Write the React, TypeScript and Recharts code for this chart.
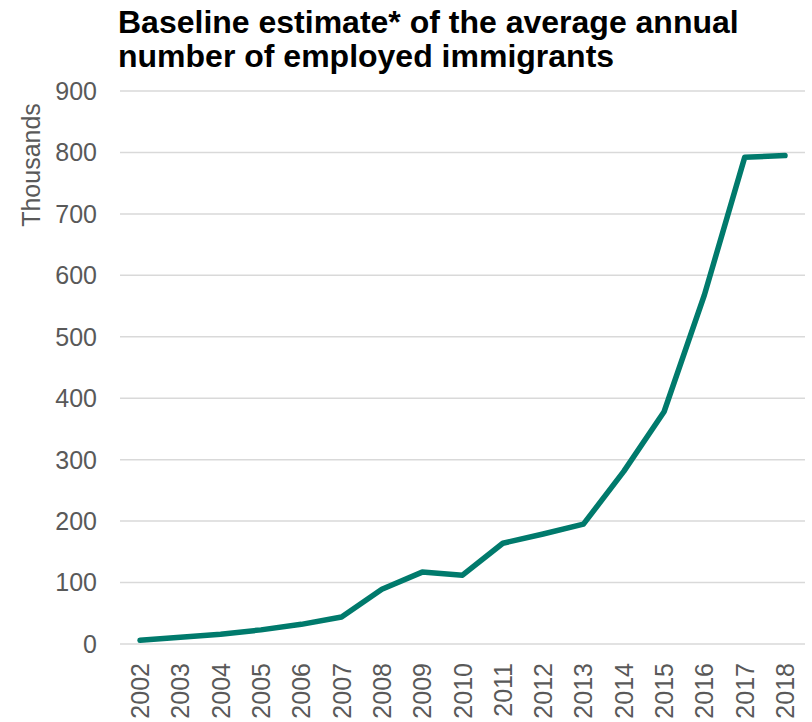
import React from 'react';
import { LineChart, Line, XAxis, YAxis, CartesianGrid } from 'recharts';

const years = ['2002','2003','2004','2005','2006','2007','2008','2009','2010','2011','2012','2013','2014','2015','2016','2017','2018'];
const employed = [6, 11, 16, 23, 32, 44, 89, 117, 112, 164, 179, 195, 281, 378, 568, 792, 795];
const yTicks = [0, 100, 200, 300, 400, 500, 600, 700, 800, 900];

const data = years.map((y, i) => ({ year: y, value: employed[i] }));

const FONT = '"Liberation Sans", Arial, sans-serif';
const GRAY = '#595959';

const XTick = (props: any) => {
  const { x, y, payload } = props;
  return (
    <g transform={`translate(${x},${y})`}>
      <text
        x={0}
        y={0}
        dy="0.36em"
        textAnchor="end"
        transform="translate(0,11) rotate(-90)"
        fill={GRAY}
        fontSize={25}
        fontFamily={FONT}
      >
        {payload.value}
      </text>
    </g>
  );
};

const YLabel = () => (
  <text
    transform="translate(40,165) rotate(-90)"
    textAnchor="middle"
    fill={GRAY}
    fontSize={25}
    fontFamily={FONT}
  >
    Thousands
  </text>
);

export default function App() {
  return (
    <div style={{ position: 'absolute', left: 0, top: 0, width: 812, height: 722, background: '#fff' }}>
      <div
        style={{
          position: 'absolute',
          left: 118,
          top: 5,
          fontFamily: FONT,
          fontWeight: 'bold',
          fontSize: 32,
          lineHeight: '34px',
          color: '#000',
          whiteSpace: 'nowrap',
        }}
      >
        Baseline estimate* of the average annual
        <br />
        number of employed immigrants
      </div>
      <LineChart width={812} height={722} data={data} margin={{ top: 91, right: 7, bottom: 0, left: 0 }}>
        <CartesianGrid vertical={false} stroke="#D9D9D9" strokeWidth={1.5} />
        <XAxis
          dataKey="year"
          height={78}
          axisLine={false}
          tickLine={false}
          interval={0}
          padding={{ left: 20, right: 20 }}
          tick={<XTick />}
        />
        <YAxis
          width={120}
          domain={[0, 900]}
          ticks={yTicks}
          axisLine={false}
          tickLine={false}
          tickSize={0}
          tickMargin={23}
          tick={{ fill: GRAY, fontSize: 25, fontFamily: FONT }}
          label={{ content: <YLabel /> }}
        />
        <Line
          type="linear"
          dataKey="value"
          stroke="#007A6C"
          strokeWidth={5.5}
          dot={false}
          strokeLinecap="round"
          strokeLinejoin="round"
          isAnimationActive={false}
        />
      </LineChart>
    </div>
  );
}
